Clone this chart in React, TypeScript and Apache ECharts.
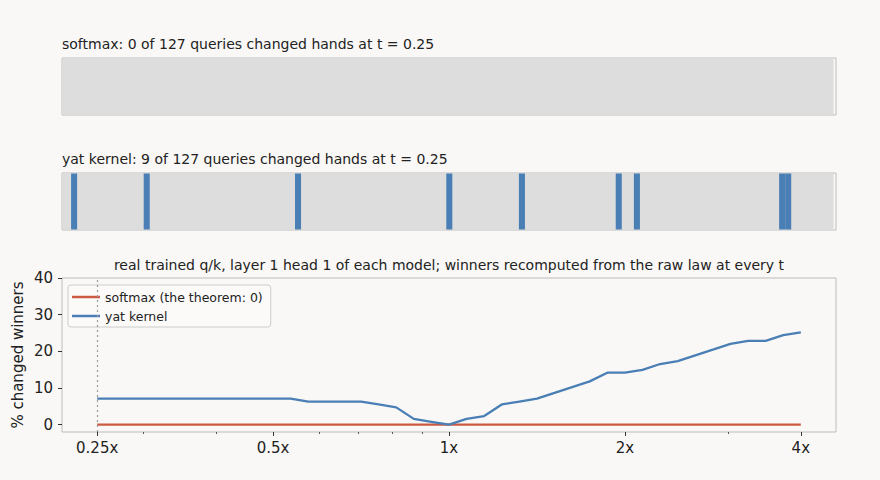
import React, { useEffect, useRef } from "react";
import * as echarts from "echarts";

// ---------- data ----------
const QUERY_COUNT = 127;
const SOFTMAX_CHANGED_QUERIES: number[] = [];
const YAT_CHANGED_QUERIES = [1, 13, 38, 63, 75, 91, 94, 118, 119];

const SOFTMAX_TITLE = "softmax: 0 of 127 queries changed hands at t = 0.25";
const YAT_TITLE = "yat kernel: 9 of 127 queries changed hands at t = 0.25";
const LINE_TITLE =
  "real trained q/k, layer 1 head 1 of each model; winners recomputed from the raw law at every t";

// temperature multipliers (x axis, log scale)
const T_VALUES = [
  0.25, 0.267943, 0.287175, 0.307786, 0.329877, 0.353553, 0.378929, 0.406126, 0.435275, 0.466516,
  0.5, 0.535887, 0.574349, 0.615572, 0.659754, 0.707107, 0.757858, 0.812252, 0.870551, 0.933033,
  1, 1.071773, 1.148698, 1.231144, 1.319508, 1.414214, 1.515717, 1.624505, 1.741101, 1.866066,
  2, 2.143547, 2.297397, 2.462289, 2.639016, 2.828427, 3.031433, 3.24901, 3.482202, 3.732132, 4,
];

const SOFTMAX_PCT = [
  0, 0, 0, 0, 0, 0, 0, 0, 0, 0,
  0, 0, 0, 0, 0, 0, 0, 0, 0, 0,
  0, 0, 0, 0, 0, 0, 0, 0, 0, 0,
  0, 0, 0, 0, 0, 0, 0, 0, 0, 0, 0,
];

const YAT_PCT = [
  7.09, 7.09, 7.09, 7.09, 7.09, 7.09, 7.09, 7.09, 7.09, 7.09,
  7.09, 7.09, 6.3, 6.3, 6.3, 6.3, 5.51, 4.72, 1.57, 0.79,
  0, 1.57, 2.36, 5.51, 6.3, 7.09, 8.66, 10.24, 11.81, 14.17,
  14.17, 14.96, 16.54, 17.32, 18.9, 20.47, 22.05, 22.83, 22.83, 24.41, 25.2,
];

const X_TICKS = [0.25, 0.5, 1, 2, 4];
const X_TICK_LABELS = ["0.25x", "0.5x", "1x", "2x", "4x"];
const X_MINOR_TICKS = [0.3, 0.4, 0.6, 0.7, 0.8, 0.9, 3];
const Y_TICKS = [0, 10, 20, 30, 40];
const REFERENCE_T = 0.25;

const SERIES_NAMES = ["softmax (the theorem: 0)", "yat kernel"];

// ---------- styles ----------
const BG = "#f9f8f6";
const FRAME = "#bcbcbc";
const CELL_BG = "#dddddd";
const BLUE = "#4a7fb5";
const RED = "#cc5a43";
const TEXT = "#222222";
const FONT = "DejaVu Sans";

export default function App() {
  const ref = useRef<HTMLDivElement>(null);

  useEffect(() => {
    document.body.style.margin = "0";
    document.body.style.background = BG;
    const chart = echarts.init(ref.current!, null, { renderer: "svg" });

    const lg = (v: number) => Math.log2(v);
    const xMin = lg(0.25) - 0.2;
    const xMax = lg(4) + 0.2;

    const cellItem = (params: any, api: any) => {
      const a = api.coord([api.value(0), 1]);
      const b = api.coord([api.value(1), 0]);
      return {
        type: "rect",
        shape: { x: a[0], y: a[1] + 0.5, width: b[0] - a[0], height: b[1] - a[1] - 1 },
        style: { fill: api.visual("color") },
      };
    };

    const stripSeries = (gridIdx: number, changed: number[]) => [
      {
        type: "custom",
        xAxisIndex: gridIdx,
        yAxisIndex: gridIdx,
        renderItem: cellItem,
        itemStyle: { color: CELL_BG },
        encode: { x: [0, 1] },
        data: [[-0.5, QUERY_COUNT]],
        silent: true,
        z: 1,
      },
      {
        type: "custom",
        xAxisIndex: gridIdx,
        yAxisIndex: gridIdx,
        renderItem: cellItem,
        itemStyle: { color: BLUE },
        encode: { x: [0, 1] },
        data: changed.map((i) => [i, i + 1]),
        silent: true,
        z: 2,
      },
    ];

    const hiddenX = (gridIndex: number) => ({
      type: "value",
      gridIndex,
      min: -0.5,
      max: 127.4,
      show: false,
    });
    const hiddenY = (gridIndex: number) => ({
      type: "value",
      gridIndex,
      min: 0,
      max: 1,
      show: false,
    });

    const titleFont = `14px '${FONT}'`;

    const option: any = {
      animation: false,
      backgroundColor: BG,
      textStyle: { fontFamily: FONT },
      graphic: [
        {
          type: "text",
          x: 62,
          y: 44,
          style: { text: SOFTMAX_TITLE, font: titleFont, fill: TEXT, textVerticalAlign: "middle" },
        },
        {
          type: "text",
          x: 62,
          y: 159,
          style: { text: YAT_TITLE, font: titleFont, fill: TEXT, textVerticalAlign: "middle" },
        },
        {
          type: "text",
          x: 449,
          y: 265,
          style: {
            text: LINE_TITLE,
            font: titleFont,
            fill: TEXT,
            textAlign: "center",
            textVerticalAlign: "middle",
          },
        },
      ],
      grid: [
        { left: 62, top: 58, width: 774, height: 57, show: true, borderColor: FRAME, borderWidth: 1, backgroundColor: "transparent" },
        { left: 62, top: 173, width: 774, height: 57, show: true, borderColor: FRAME, borderWidth: 1, backgroundColor: "transparent" },
        { left: 62, top: 278, width: 774, height: 154, show: true, borderColor: FRAME, borderWidth: 1, backgroundColor: "transparent" },
      ],
      xAxis: [
        hiddenX(0),
        hiddenX(1),
        {
          type: "value",
          gridIndex: 2,
          min: xMin,
          max: xMax,
          position: "bottom",
          axisLine: { show: false, onZero: false },
          splitLine: { show: false },
          axisTick: {
            show: true,
            length: 4,
            lineStyle: { color: "#333", width: 1 },
            customValues: X_TICKS.map(lg),
          },
          axisLabel: {
            show: true,
            margin: 8,
            fontSize: 15,
            color: TEXT,
            fontFamily: FONT,
            customValues: X_TICKS.map(lg),
            formatter: (v: number) => {
              const i = X_TICKS.findIndex((t) => Math.abs(lg(t) - v) < 1e-6);
              return i >= 0 ? X_TICK_LABELS[i] : "";
            },
          },
        },
        {
          type: "value",
          gridIndex: 2,
          min: xMin,
          max: xMax,
          position: "bottom",
          offset: 0,
          axisLine: { show: false, onZero: false },
          splitLine: { show: false },
          axisLabel: { show: false },
          axisTick: {
            show: true,
            length: 2,
            lineStyle: { color: "#333", width: 0.8 },
            customValues: X_MINOR_TICKS.map(lg),
          },
        },
      ],
      yAxis: [
        hiddenY(0),
        hiddenY(1),
        {
          type: "value",
          gridIndex: 2,
          min: -2,
          max: 40,
          position: "left",
          axisLine: { show: false, onZero: false },
          splitLine: { show: false },
          axisTick: {
            show: true,
            length: 4,
            lineStyle: { color: "#333", width: 1 },
            customValues: Y_TICKS,
          },
          axisLabel: {
            show: true,
            margin: 9,
            fontSize: 15,
            color: TEXT,
            fontFamily: FONT,
            customValues: Y_TICKS,
          },
          name: "% changed winners",
          nameLocation: "middle",
          nameGap: 37,
          nameMoveOverlap: false,
          nameTextStyle: { fontSize: 15, color: TEXT, fontFamily: FONT },
        },
      ],
      legend: {
        left: 68,
        top: 285,
        orient: "vertical",
        data: SERIES_NAMES,
        icon: "rect",
        itemWidth: 28,
        itemHeight: 2.5,
        itemGap: 5,
        padding: [5, 8, 4, 4],
        borderColor: "#cccccc",
        borderWidth: 1,
        borderRadius: 3,
        backgroundColor: "rgba(255,255,255,0.35)",
        textStyle: { fontSize: 12.5, color: TEXT, fontFamily: FONT, lineHeight: 14 },
      },
      series: [
        ...stripSeries(0, SOFTMAX_CHANGED_QUERIES),
        ...stripSeries(1, YAT_CHANGED_QUERIES),
        {
          name: SERIES_NAMES[0],
          type: "line",
          xAxisIndex: 2,
          yAxisIndex: 2,
          data: T_VALUES.map((t, i) => [lg(t), SOFTMAX_PCT[i]]),
          showSymbol: false,
          symbol: "none",
          lineStyle: { color: RED, width: 2.3 },
          itemStyle: { color: RED },
          markLine: {
            silent: true,
            symbol: ["none", "none"],
            label: { show: false },
            lineStyle: { type: [2, 3], color: "#9a9a9a", width: 1.2 },
            data: [{ xAxis: lg(REFERENCE_T) }],
          },
        },
        {
          name: SERIES_NAMES[1],
          type: "line",
          xAxisIndex: 2,
          yAxisIndex: 2,
          data: T_VALUES.map((t, i) => [lg(t), YAT_PCT[i]]),
          showSymbol: false,
          symbol: "none",
          lineStyle: { color: BLUE, width: 2.3 },
          itemStyle: { color: BLUE },
        },
      ],
    };

    chart.setOption(option);
    return () => chart.dispose();
  }, []);

  return (
    <div
      ref={ref}
      style={{ position: "fixed", left: 0, top: 0, width: 880, height: 480, background: BG }}
    />
  );
}
